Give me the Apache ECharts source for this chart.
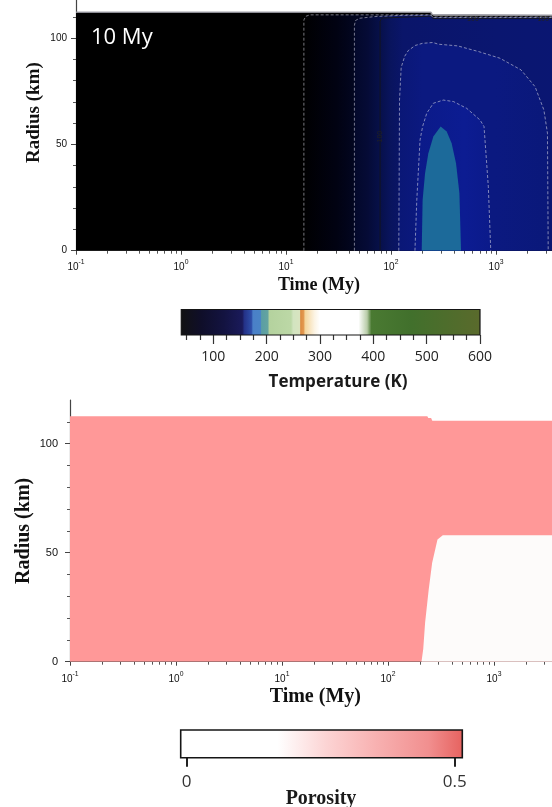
<!DOCTYPE html>
<html><head><meta charset="utf-8">
<script src="https://cdn.jsdelivr.net/npm/echarts@6/dist/echarts.min.js"></script>
<style>html,body{margin:0;padding:0;background:#fff;}#chart{width:552px;height:807px;}</style>
</head><body><div id="chart"></div>
<script>
// ================= DATA =================
// shared time axis (My, log scale)
const timeRange = [0.1, 4250];
const timeMajorTicks = [0.1, 1, 10, 100, 1000];
const timeTickExponents = ['-1', '0', '1', '2', '3'];
const timeMinorTicks = [0.2,0.3,0.4,0.5,0.6,0.7,0.8,0.9, 2,3,4,5,6,7,8,9, 20,30,40,50,60,70,80,90, 200,300,400,500,600,700,800,900, 2000,3000,4000];
const radiusMajorTicks = [0, 50, 100];
const radiusMinorTicks = [10,20,30,40,60,70,80,90,110];

// top panel: temperature field, boundaries as [time My, radius km]
const bodySurface = [[0.1,112.2],[240,112.2],[246,111.2],[255,110.7],[4250,110.7]];
const contour1 = [[14.8,0],[14.8,108.6],[15.4,110.3],[16.8,111.0],[238,111.0],[250,110.0],[4250,110.0]];
const contour2 = [[44.8,0],[44.8,106.0],[45.8,108.3],[50,109.4],[70,110.2],[130,110.8],[238,110.9],[250,109.8],[4250,109.8]];
const contour100K = [[78.7,0],[78.7,108.0],[82,109.5],[238,110.4],[250,109.3],[4250,109.3]];
const contour3 = [[118.6,0],[120.5,71],[125,86.3],[135,91.5],[146,94.2],[170,96.6],[199,97.6],[251,98],[282,97.2],[431,96.4],[685,93.7],[1089,90.6],[1730,85.1],[2355,77.2],[2858,66.2],[3090,55.3],[3141,0]];
const contour4 = [[169,0],[176,23.9],[189,52.1],[200,58.5],[219,64.7],[253,69.4],[315,70.9],[393,70.2],[526,67],[705,61.5],[769,58.4],[845,30.1],[891,0]];
const warmCore = [[196,0],[200,23.9],[211,36.4],[226.5,45.8],[253,53.7],[297,58.4],[339,56.1],[378,50.6],[416,41.2],[448,27.1],[464.5,0]];
const contourLabels = [[78.7,53.7,'100',90],[603,109.2,'100',0],[2818,109.2,'100',0]];

// bottom panel: porosity field
const porositySurface = [[0.1,112.5],[235,112.5],[240,111.8],[255,111.8],[262,110.5],[4250,110.5]];
const compactedCore = [[207,0],[215,5.8],[224,18],[242,33],[261,45.4],[293,56],[329,58],[4250,58]];

// colour bars
const tempRange = [40, 600];
const tempMajorTicks = [100, 200, 300, 400, 500, 600];
const tempMinorTicks = [50,75,125,150,175,225,250,275,325,350,375,425,450,475,525,550,575];
const porosityRange = [-0.011, 0.514];
const porosityTicks = [0, 0.5];

// ================= STYLE =================
const tempBarStops = [[40,'#121212'],[80,'#0f0e2a'],[120,'#131340'],[155,'#1a1a5a'],[159,'#243288'],[172,'#2e4ea8'],[175,'#4a80c8'],[189,'#4a84c6'],[191,'#5a9ea4'],[203,'#64a4a0'],[205,'#b4d29e'],[246,'#bcd8a6'],[250,'#d2e4c0'],[262,'#d8e4c0'],[264,'#dc8a40'],[270,'#e39a52'],[272,'#f4d49a'],[290,'#fcf4e4'],[300,'#ffffff'],[372,'#ffffff'],[388,'#b8cca8'],[396,'#4a7a32'],[470,'#41702c'],[600,'#5a6a2c']];
const porosityBarStops = [[-0.011,'#ffffff'],[0.17,'#ffffff'],[0.26,'#fcd4d4'],[0.35,'#f8b2b2'],[0.45,'#f18f8f'],[0.514,'#e6625f']];

const closeToAxis = pts => pts.concat([[timeRange[1],0],[timeRange[0],0]]);
const closeRight = pts => pts.concat([[timeRange[1],0]]);
const tempRegions = [
  {points: closeToAxis(bodySurface), color:'#000000'},
  {points: closeRight(contour1), stops:[[14.8,'#000001'],[30,'#010212'],[44.8,'#020620']]},
  {points: closeRight(contour2), stops:[[44.8,'#03082a'],[60,'#050b36'],[79,'#07104a'],[100,'#09145e'],[130,'#0a156a'],[1000,'#0a1670'],[4250,'#0a1672']]},
  {points: contour3, stops:[[118.6,'#0a1776'],[200,'#0b1980'],[1000,'#0b1980'],[3141,'#0a187a']]},
  {points: contour4, stops:[[169,'#0b1a88'],[500,'#0c1c92'],[891,'#0b1a8a']]},
  {points: warmCore, color:'#1c6a9a'}
];
const porosityRegions = [
  {points: closeToAxis(porositySurface), color:'#ff9898'},
  {points: closeRight(compactedCore), color:'#fdfbfa'}
];

const chart = echarts.init(document.getElementById('chart'), null, {renderer:'canvas'});
const labelFont = 'Liberation Sans';
const serif = 'Liberation Serif';

function polyRender(regions){
  return function(params, api){
    const reg = regions[params.dataIndex];
    const pts = reg.points.map(p => api.coord(p));
    let fill = reg.color;
    if (reg.stops) {
      const xs = reg.stops.map(s => api.coord([s[0], 1])[0]);
      const x0 = xs[0], x1 = xs[xs.length-1];
      fill = new echarts.graphic.LinearGradient(x0, 0, x1, 0,
        reg.stops.map((s,i)=>({offset: Math.min(1,Math.max(0,(xs[i]-x0)/(x1-x0))), color: s[1]})), true);
    }
    return {type:'polygon', shape:{points: pts}, style:{fill: fill}, silent:true};
  };
}
function barRender(range, stops, strokeW){
  return function(params, api){
    const p0 = api.coord([range[0], 0]), p1 = api.coord([range[1], 1]);
    const grad = new echarts.graphic.LinearGradient(0,0,1,0,
      stops.map(s=>({offset:(s[0]-range[0])/(range[1]-range[0]), color:s[1]})));
    return {type:'rect', shape:{x:p0[0], y:p1[1], width:p1[0]-p0[0], height:p0[1]-p1[1]},
      style:{fill:grad, stroke:'#151515', lineWidth:strokeW}, silent:true};
  };
}
function timeAxes(gridIndex, labelMargin, baseSize, name, nameGap, nameSize){
  return [{
    type:'log', logBase:10, gridIndex, position:'bottom', min:timeRange[0], max:timeRange[1],
    axisLine:{show:true, onZero:false, lineStyle:{color:'#444', width:1}},
    axisTick:{show:true, inside:false, length:4, customValues: timeMajorTicks, lineStyle:{color:'#444', width:1}},
    axisLabel:{show:true, customValues: timeMajorTicks, margin:labelMargin, color:'#111',
      formatter: v => '{b|10}{s|' + timeTickExponents[Math.round(Math.log10(v))+1] + '}',
      rich:{
        b:{fontFamily:labelFont, fontSize:baseSize, color:'#111', lineHeight:baseSize+4, verticalAlign:'bottom'},
        s:{fontFamily:labelFont, fontSize:baseSize*0.68, color:'#111', lineHeight:baseSize*0.7, verticalAlign:'top'}
      }},
    splitLine:{show:false}, minorTick:{show:false}, minorSplitLine:{show:false},
    name, nameLocation:'middle', nameGap, nameMoveOverlap:false,
    nameTextStyle:{fontFamily:serif, fontWeight:'bold', fontSize:nameSize, color:'#111'}
  },{
    type:'log', logBase:10, gridIndex, position:'bottom', min:timeRange[0], max:timeRange[1],
    axisLine:{show:false},
    axisTick:{show:true, inside:false, length:3, customValues: timeMinorTicks, lineStyle:{color:'#555', width:1}},
    axisLabel:{show:false}, splitLine:{show:false}
  }];
}
function radiusAxes(gridIndex, max, labelMargin, fontSize, name, nameGap, nameSize){
  return [{
    type:'value', gridIndex, position:'left', min:0, max,
    axisLine:{show:true, onZero:false, lineStyle:{color:'#444', width:1.2}},
    axisTick:{show:true, length:5, customValues: radiusMajorTicks, lineStyle:{color:'#444'}},
    axisLabel:{show:true, customValues: radiusMajorTicks, margin:labelMargin, fontFamily:labelFont, fontSize, color:'#111'},
    splitLine:{show:false},
    name, nameLocation:'middle', nameGap, nameRotate:90, nameMoveOverlap:false,
    nameTextStyle:{fontFamily:serif, fontWeight:'bold', fontSize:nameSize, color:'#111'}
  },{
    type:'value', gridIndex, position:'left', min:0, max,
    axisLine:{show:false},
    axisTick:{show:true, length:3, customValues: radiusMinorTicks, lineStyle:{color:'#555'}},
    axisLabel:{show:false}, splitLine:{show:false}
  }];
}

const xAxes = [].concat(
  timeAxes(0, 8, 10, 'Time (My)', 26, 18),
  timeAxes(1, 9, 10, 'Time (My)', 25, 20),
  [{
    type:'value', gridIndex:2, position:'bottom', min:tempRange[0], max:tempRange[1],
    axisLine:{show:false},
    axisTick:{show:true, length:9, customValues:tempMajorTicks, lineStyle:{color:'#333', width:1.2}},
    axisLabel:{show:true, customValues:tempMajorTicks, margin:15, fontFamily:'Open Sans', fontSize:14, color:'#222'},
    splitLine:{show:false}
  },{
    type:'value', gridIndex:2, position:'bottom', min:tempRange[0], max:tempRange[1],
    axisLine:{show:false},
    axisTick:{show:true, length:5, customValues:tempMinorTicks, lineStyle:{color:'#333', width:1.2}},
    axisLabel:{show:false}, splitLine:{show:false}
  },{
    type:'value', gridIndex:3, position:'bottom', min:porosityRange[0], max:porosityRange[1],
    axisLine:{show:false},
    axisTick:{show:true, length:9, customValues:porosityTicks, lineStyle:{color:'#222', width:2}},
    axisLabel:{show:true, customValues:porosityTicks, margin:16, fontFamily:'Open Sans', fontSize:17, color:'#333',
      formatter: v => (v === 0 ? '0' : String(v))},
    splitLine:{show:false}
  }]
);
const yAxes = [].concat(
  radiusAxes(0, 130, 9, 10, 'Radius (km)', 32, 19),
  radiusAxes(1, 120, 12, 11, 'Radius (km)', 36, 20),
  [{type:'value', gridIndex:2, min:0, max:1, show:false},
   {type:'value', gridIndex:3, min:0, max:1, show:false}]
);

function contourLine(data, color, width, dashed){
  return {type:'line', xAxisIndex:0, yAxisIndex:0, data, showSymbol:false, symbol:'none', silent:true,
    lineStyle:{color, width, type: dashed ? [3,2] : 'solid'}, z:5, animation:false};
}

const option = {
  animation:false,
  backgroundColor:'#ffffff',
  grid:[
    {left:76, right:-10, top:-25.5, height:276.2, outerBoundsMode:'none', containLabel:false},
    {left:70, right:-8.6, top:400, height:261.7, outerBoundsMode:'none', containLabel:false},
    {left:181.3, width:298.7, top:309.5, height:25.5, outerBoundsMode:'none', containLabel:false},
    {left:180.7, width:281.6, top:730, height:27.7, outerBoundsMode:'none', containLabel:false}
  ],
  xAxis: xAxes,
  yAxis: yAxes,
  series:[
    {type:'custom', name:'temperature', xAxisIndex:0, yAxisIndex:0, renderItem: polyRender(tempRegions),
      data: tempRegions.map(r=>r.points[0]), clip:true, z:2},
    contourLine(contour1, 'rgba(210,210,225,0.7)', 0.8, true),
    contourLine(contour2, 'rgba(210,210,225,0.7)', 0.8, true),
    contourLine(contour3, 'rgba(210,210,225,0.75)', 0.8, true),
    contourLine(contour4, 'rgba(210,210,225,0.75)', 0.8, true),
    contourLine(contour100K, '#161616', 0.8, false),
    contourLine(bodySurface, 'rgba(150,150,158,0.9)', 1.6, false),
    {type:'custom', name:'contour labels', xAxisIndex:0, yAxisIndex:0, z:6, clip:false,
      data: contourLabels.map(d=>[d[0],d[1]]),
      renderItem:(params, api)=>{
        const d = contourLabels[params.dataIndex];
        const p = api.coord([d[0], d[1]]);
        return {type:'text', x:p[0], y:p[1], rotation: d[3]*Math.PI/180,
          style:{text:d[2], fontSize:7, fontFamily:labelFont, fill:'#222', align:'center', verticalAlign:'middle'}, silent:true};
      }},
    {type:'custom', name:'porosity', xAxisIndex:2, yAxisIndex:2, renderItem: polyRender(porosityRegions),
      data: porosityRegions.map(r=>r.points[0]), clip:true, z:2},
    {type:'custom', name:'temperature bar', xAxisIndex:4, yAxisIndex:4, renderItem: barRender(tempRange, tempBarStops, 1.2),
      data:[[tempRange[0],0]], clip:false},
    {type:'custom', name:'porosity bar', xAxisIndex:6, yAxisIndex:5, renderItem: barRender(porosityRange, porosityBarStops, 1.6),
      data:[[porosityRange[0],0]], clip:false}
  ],
  graphic:[
    {type:'text', x:91, y:38, z:50, silent:true,
      style:{text:'10 My', font:'22px "Open Sans"', fill:'#ffffff', verticalAlign:'middle', align:'left'}},
    {type:'text', x:338, y:382, z:50, silent:true,
      style:{text:'Temperature (K)', font:'bold 17px "Open Sans"', fill:'#1a1a1a', verticalAlign:'middle', align:'center'}},
    {type:'text', x:321, y:799, z:50, silent:true,
      style:{text:'Porosity', font:'bold 20px "Liberation Serif"', fill:'#1a1a1a', verticalAlign:'middle', align:'center'}}
  ]
};
chart.setOption(option);
</script></body></html>
